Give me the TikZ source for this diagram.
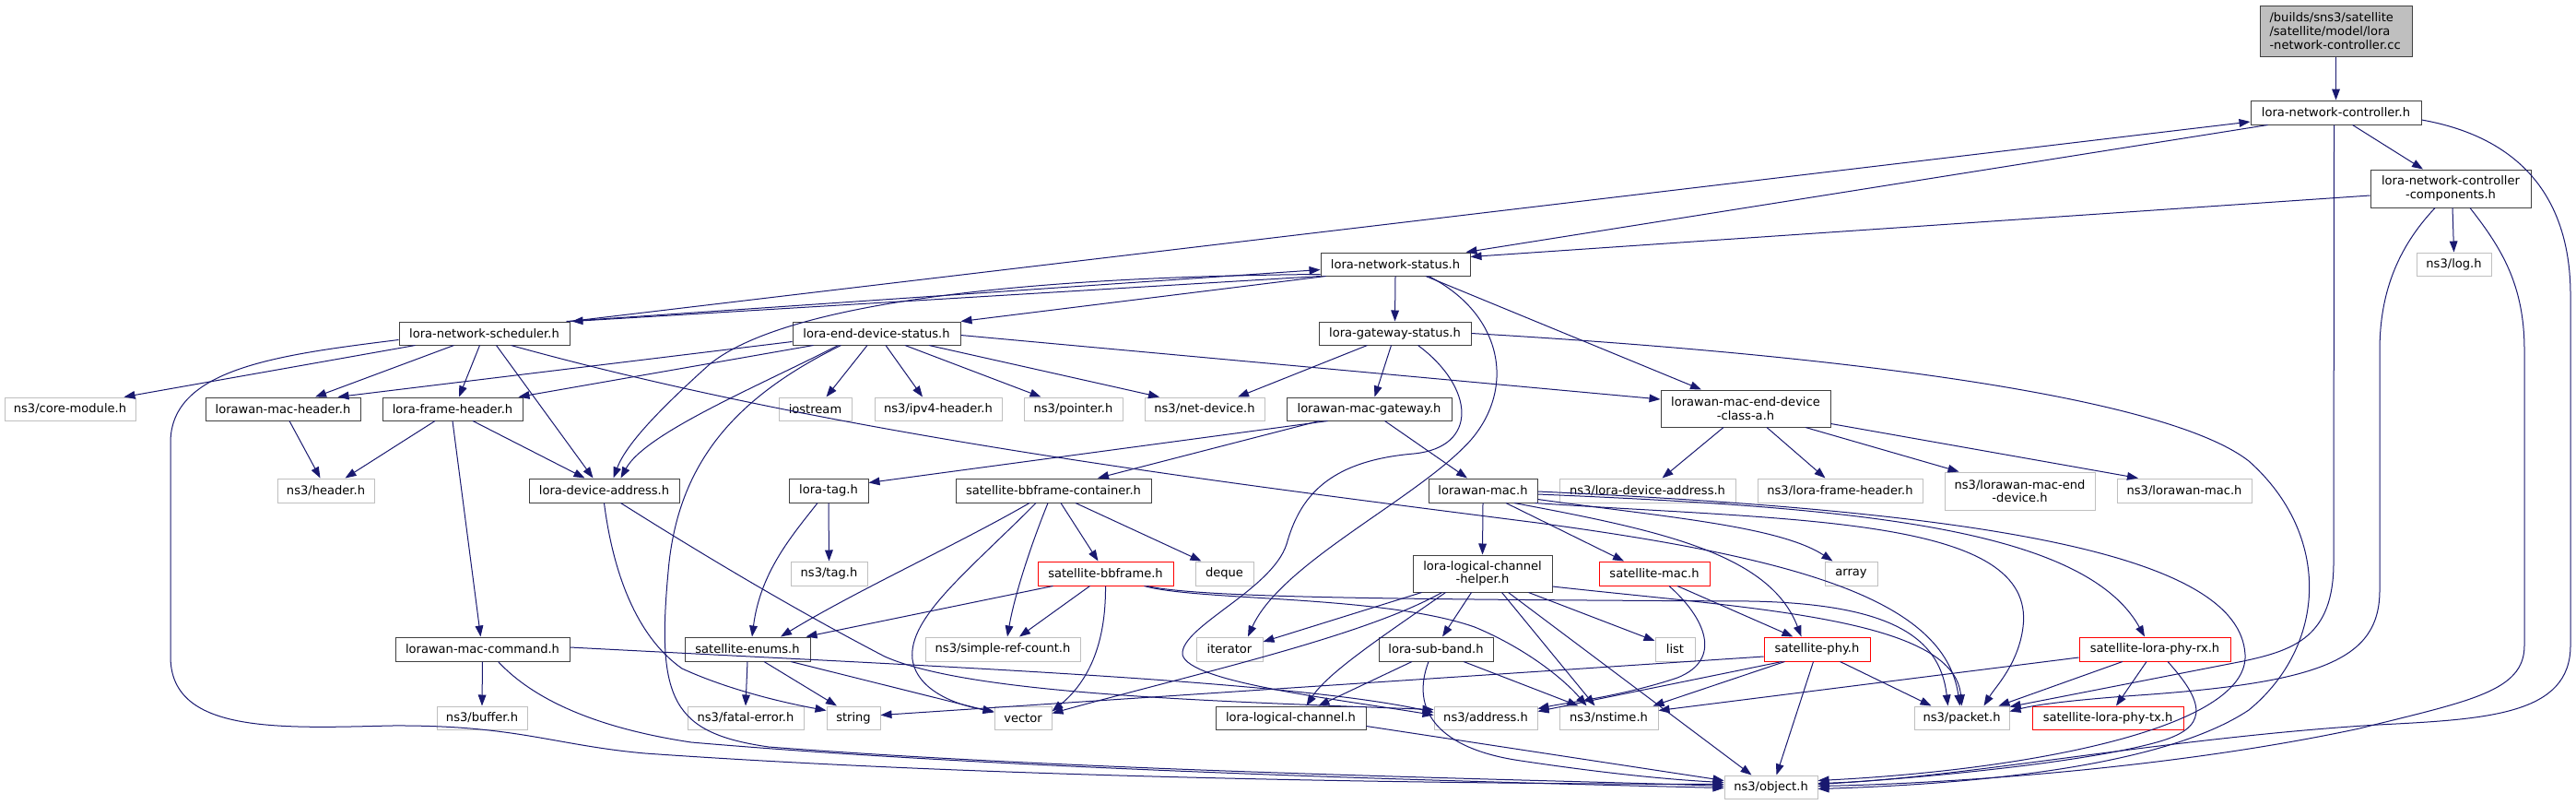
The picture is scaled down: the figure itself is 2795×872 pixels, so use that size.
\documentclass[tikz,border=0pt]{standalone}
\usepackage{fontspec}
\setmainfont{DejaVu Sans}
\usetikzlibrary{arrows.meta,calc}
\definecolor{edgecol}{HTML}{191970}
\definecolor{docbord}{HTML}{404040}
\definecolor{extbord}{HTML}{BFBFBF}
\definecolor{rootfill}{HTML}{BFBFBF}
\newcommand\mknode[7]{\node[#6, minimum width={(#4-#2)*0.75pt}, minimum height={(#5-#3)*0.75pt}] (#1) at ({(#2+#4)/2},{(#3+#5)/2}) {#7};}
\tikzset{
  basen/.style={inner sep=0pt, fill=white, line width=0.75pt, align=center, font=\fontsize{9.8pt}{11pt}\selectfont},
  doc/.style={basen, draw=docbord},
  ext/.style={basen, draw=extbord},
  redn/.style={basen, draw=red},
  rootn/.style={basen, draw=docbord, fill=rootfill, align=left, text width=108pt},
  edg/.style={draw=edgecol, line width=0.75pt, -{Triangle[length=9pt,width=6.5pt]}}
}
\begin{document}
\begin{tikzpicture}[x=0.75pt,y=-0.75pt]
\fill[white] (0,0) rectangle (2795,872);
\useasboundingbox (0,0) rectangle (2795,872);
% nodes
\mknode{root}{2452}{6}{2617}{61}{rootn}{/builds/sns3/satellite\\/satellite/model/lora\\-network-controller.cc}
\mknode{lnc}{2442}{109}{2627}{135}{doc}{lora-network-controller.h}
\mknode{lncc}{2572}{184}{2746}{225}{doc}{lora-network-controller\\-components.h}
\mknode{log}{2622}{274}{2703}{299}{ext}{ns3/log.h}
\mknode{lns}{1433}{274}{1595}{299}{doc}{lora-network-status.h}
\mknode{lnsch}{433}{349}{618}{374}{doc}{lora-network-scheduler.h}
\mknode{leds}{860}{349}{1042}{374}{doc}{lora-end-device-status.h}
\mknode{lgs}{1431}{349}{1596}{374}{doc}{lora-gateway-status.h}
\mknode{core}{5}{431}{147}{456}{ext}{ns3/core-module.h}
\mknode{lmh}{223}{431}{391}{456}{doc}{lorawan-mac-header.h}
\mknode{lfh}{415}{431}{567}{456}{doc}{lora-frame-header.h}
\mknode{iostream}{845}{431}{924}{456}{ext}{iostream}
\mknode{ipv4}{949}{431}{1087}{456}{ext}{ns3/ipv4-header.h}
\mknode{pointer}{1111}{431}{1218}{456}{ext}{ns3/pointer.h}
\mknode{netdev}{1242}{431}{1372}{456}{ext}{ns3/net-device.h}
\mknode{lmg}{1396}{431}{1575}{456}{doc}{lorawan-mac-gateway.h}
\mknode{lmedc}{1802}{423}{1986}{463}{doc}{lorawan-mac-end-device\\-class-a.h}
\mknode{header}{301}{519}{406}{545}{ext}{ns3/header.h}
\mknode{lda}{574}{519}{737}{545}{doc}{lora-device-address.h}
\mknode{ltag}{856}{519}{942}{545}{doc}{lora-tag.h}
\mknode{sbbc}{1037}{519}{1249}{545}{doc}{satellite-bbframe-container.h}
\mknode{lmac}{1550}{519}{1668}{545}{doc}{lorawan-mac.h}
\mknode{nlda}{1692}{519}{1883}{545}{ext}{ns3/lora-device-address.h}
\mknode{nlfh}{1907}{519}{2086}{545}{ext}{ns3/lora-frame-header.h}
\mknode{nlmed}{2110}{512}{2273}{553}{ext}{ns3/lorawan-mac-end\\-device.h}
\mknode{nlm}{2297}{519}{2443}{545}{ext}{ns3/lorawan-mac.h}
\mknode{ntag}{858}{609}{941}{635}{ext}{ns3/tag.h}
\mknode{sbb}{1126}{609}{1273}{635}{redn}{satellite-bbframe.h}
\mknode{deque}{1297}{609}{1360}{635}{ext}{deque}
\mknode{llch}{1533}{602}{1684}{642}{doc}{lora-logical-channel\\-helper.h}
\mknode{smac}{1735}{609}{1855}{635}{redn}{satellite-mac.h}
\mknode{array}{1980}{609}{2037}{635}{ext}{array}
\mknode{senums}{743}{691}{879}{717}{doc}{satellite-enums.h}
\mknode{nsrc}{1004}{691}{1172}{717}{ext}{ns3/simple-ref-count.h}
\mknode{iterator}{1298}{691}{1370}{717}{ext}{iterator}
\mknode{lsb}{1496}{691}{1620}{717}{doc}{lora-sub-band.h}
\mknode{list}{1796}{691}{1839}{717}{ext}{list}
\mknode{sphy}{1914}{691}{2029}{717}{redn}{satellite-phy.h}
\mknode{slprx}{2256}{691}{2420}{717}{redn}{satellite-lora-phy-rx.h}
\mknode{lmc}{429}{691}{618}{717}{doc}{lorawan-mac-command.h}
\mknode{buffer}{474}{766}{572}{791}{ext}{ns3/buffer.h}
\mknode{fatal}{746}{766}{872}{791}{ext}{ns3/fatal-error.h}
\mknode{string}{897}{766}{955}{791}{ext}{string}
\mknode{vector}{1079}{766}{1141}{791}{ext}{vector}
\mknode{llc}{1319}{766}{1482}{791}{doc}{lora-logical-channel.h}
\mknode{addr}{1556}{766}{1668}{791}{ext}{ns3/address.h}
\mknode{nstime}{1692}{766}{1799}{791}{ext}{ns3/nstime.h}
\mknode{packet}{2077}{766}{2180}{791}{ext}{ns3/packet.h}
\mknode{slptx}{2205}{766}{2369}{791}{redn}{satellite-lora-phy-tx.h}
\mknode{object}{1871}{841}{1972}{866}{ext}{ns3/object.h}
% edges
\draw[edg] (root.south) -- (lnc.north);
\draw[edg] ($(lnc.south)+(18,0)$) -- ($(lncc.north)+(-30,0)$);
\draw[edg] ($(lnc.south west)+(19,0)$) -- ($(lns.north east)+(-5,0)$);
\draw[edg] ($(lncc.west)+(0,7.5)$) -- ($(lns.north east)+(0,5)$);
\draw[edg] ($(lnc.south)+(-2,0)$) -- (2532,610) .. controls (2532,690) and (2490,705) .. (2434,717) -- ($(packet.north east)+(0,1)$);
\draw[edg] ($(lncc.south)+(-17,0)$) .. controls (2600,270) and (2582,320) .. (2582,380) -- (2582,640) .. controls (2582,715) and (2520,740) .. (2320,754) .. controls (2250,759) and (2210,764) .. ($(packet.east)+(0,-7)$);
\draw[edg] ($(lnc.east)+(0,8)$) .. controls (2740,150) and (2789,220) .. (2789,320) -- (2789,700) .. controls (2789,775) and (2700,780) .. (2580,786) .. controls (2350,800) and (2120,845) .. ($(object.east)+(0,-4)$);
\draw[edg] ($(lncc.south)+(21,0)$) .. controls (2715,270) and (2739,310) .. (2739,380) -- (2739,700) .. controls (2739,750) and (2680,760) .. (2560,790) .. controls (2350,835) and (2100,850) .. ($(object.east)+(0,-1)$);
\draw[edg] ($(lncc.south)+(2,0)$) -- (log.north);
\draw[edg] (lnsch.north east) -- ($(lnc.west)+(0,10)$);
\draw[edg] ($(lnsch.north east)+(-4,0)$) -- ($(lns.west)+(0,6)$);
\draw[edg] (lns.south west) -- ($(lnsch.north east)+(2,0)$);
\draw[edg] ($(lnsch.south west)+(18,0)$) -- ($(core.north east)+(-13,0)$);
\draw[edg] ($(lnsch.west)+(0,7)$) .. controls (300,385) and (185,400) .. (185,480) -- (185,712) .. controls (185,795) and (300,790) .. (424,787) .. controls (560,786) and (600,808) .. (700,817) .. controls (1100,845) and (1600,850) .. ($(object.west)+(0,-3)$);
\draw[edg] ($(lnsch.south)+(-33,0)$) -- ($(lmh.north)+(35,0)$);
\draw[edg] ($(lnsch.south)+(-5,0)$) -- ($(lfh.north)+(7,0)$);
\draw[edg] ($(lnsch.south)+(13,0)$) -- ($(lda.north)+(-12,0)$);
\draw[edg] ($(lnsch.south)+(29,0)$) .. controls (900,470) and (1300,520) .. (1668,567) .. controls (1950,605) and (2110,650) .. ($(packet.north)+(-2,0)$);
\draw[edg] ($(lns.south west)+(6,0)$) -- (leds.north east);
\draw[edg] (lns.south) -- (lgs.north);
\draw[edg] ($(lns.south)+(33,0)$) -- ($(lmedc.north)+(-48,0)$);
\draw[edg] ($(lns.south)+(36,0)$) .. controls (1630,340) and (1645,420) .. (1596,477) .. controls (1540,540) and (1390,610) .. ($(iterator.north)+(20,0)$);
\draw[edg] ($(lns.south west)+(0,-2)$) .. controls (1100,300) and (850,330) .. (770,395) .. controls (720,440) and (680,480) .. ($(lda.north)+(10,0)$);
\draw[edg] ($(leds.south west)+(0,-4)$) -- ($(lmh.north east)+(-25,0)$);
\draw[edg] ($(leds.south west)+(23,0)$) -- ($(lfh.north east)+(-5,0)$);
\draw[edg] ($(leds.south west)+(50,0)$) .. controls (820,420) and (700,470) .. ($(lda.north)+(18,0)$);
\draw[edg] ($(leds.south west)+(53,0)$) .. controls (800,430) and (735,500) .. (725,620) .. controls (712,760) and (730,795) .. (834,810) .. controls (1200,838) and (1700,846) .. ($(object.west)+(0,-1)$);
\draw[edg] ($(leds.south)+(-10,0)$) -- ($(iostream.north)+(12,0)$);
\draw[edg] ($(leds.south)+(10,0)$) -- ($(ipv4.north)+(-17,0)$);
\draw[edg] ($(leds.south)+(31,0)$) -- ($(pointer.north)+(-35,0)$);
\draw[edg] ($(leds.south)+(57,0)$) -- ($(netdev.north)+(-49,0)$);
\draw[edg] ($(leds.east)+(0,2)$) -- ($(lmedc.west)+(0,-10)$);
\draw[edg] ($(lgs.south)+(-30,0)$) -- ($(netdev.north)+(36,0)$);
\draw[edg] ($(lgs.south)+(-4,0)$) -- ($(lmg.north)+(6,0)$);
\draw[edg] ($(lgs.south)+(25,0)$) .. controls (1600,420) and (1605,485) .. (1534,492) .. controls (1440,500) and (1410,540) .. (1396,590) .. controls (1380,640) and (1280,680) .. (1283,710) .. controls (1290,740) and (1450,758) .. ($(addr.west)+(0,-3)$);
\draw[edg] (lgs.east) .. controls (2000,385) and (2350,430) .. (2440,500) .. controls (2530,580) and (2525,700) .. (2440,770) .. controls (2350,830) and (2150,850) .. ($(object.east)+(0,2)$);
\draw[edg] ($(lmh.south)+(7,0)$) -- ($(header.north)+(-6,0)$);
\draw[edg] ($(lfh.south)+(-19,0)$) -- ($(header.north)+(21,0)$);
\draw[edg] ($(lfh.south)+(22,0)$) -- ($(lda.north)+(-21,0)$);
\draw[edg] (lfh.south) -- ($(lmc.north)+(-2,0)$);
\draw[edg] (lda.south) .. controls (665,620) and (690,690) .. (740,725) .. controls (790,748) and (850,762) .. ($(string.west)+(0,-8)$);
\draw[edg] ($(lda.south)+(18,0)$) .. controls (760,600) and (860,660) .. (960,712) .. controls (1050,752) and (1300,760) .. ($(addr.west)+(0,-9)$);
\draw[edg] (ltag.south) -- (ntag.north);
\draw[edg] ($(ltag.south)+(-12,0)$) .. controls (860,580) and (825,620) .. ($(senums.north)+(5,0)$);
\draw[edg] ($(sbbc.south)+(-26,0)$) .. controls (1040,590) and (930,640) .. ($(senums.north)+(36,0)$);
\draw[edg] ($(sbbc.south)+(-19,0)$) .. controls (1050,620) and (985,670) .. (990,715) .. controls (995,750) and (1040,765) .. ($(vector.north west)+(0,6)$);
\draw[edg] ($(sbbc.south)+(-6,0)$) .. controls (1115,600) and (1100,650) .. ($(nsrc.north)+(5,0)$);
\draw[edg] ($(sbbc.south)+(8,0)$) -- ($(sbb.north)+(-8,0)$);
\draw[edg] ($(sbbc.south)+(24,0)$) -- ($(deque.north)+(-25,0)$);
\draw[edg] ($(sbb.south)+(-57,0)$) -- ($(senums.north east)+(-5,0)$);
\draw[edg] ($(sbb.south)+(-17,0)$) -- ($(nsrc.north)+(18,0)$);
\draw[edg] (sbb.south) .. controls (1200,700) and (1180,740) .. ($(vector.north east)+(0,6)$);
\draw[edg] ($(sbb.south)+(42,0)$) .. controls (1300,652) and (1500,645) .. (1600,680) .. controls (1660,705) and (1700,740) .. ($(nstime.north)+(-24,0)$);
\draw[edg] ($(sbb.south)+(45,0)$) .. controls (1300,648) and (1500,650) .. (1900,652) .. controls (2050,655) and (2105,690) .. ($(packet.north)+(-15,0)$);
\draw[edg] ($(llch.south west)+(10,0)$) -- ($(iterator.east)+(0,-8)$);
\draw[edg] ($(llch.south west)+(32,0)$) .. controls (1480,690) and (1300,730) .. ($(vector.east)+(0,-5)$);
\draw[edg] ($(llch.south west)+(36,0)$) .. controls (1500,690) and (1440,730) .. ($(llc.north)+(17,0)$);
\draw[edg] ($(llch.south)+(-12,0)$) -- ($(lsb.north)+(7,0)$);
\draw[edg] ($(llch.south)+(21,0)$) -- ($(nstime.north)+(-15,0)$);
\draw[edg] ($(llch.south)+(28,0)$) -- ($(object.north)+(-21,0)$);
\draw[edg] ($(llch.south)+(50,0)$) -- ($(list.west)+(0,-9)$);
\draw[edg] ($(llch.east)+(0,14)$) .. controls (1900,660) and (2120,670) .. (packet.north);
\draw[edg] (lmac.south) -- (llch.north);
\draw[edg] ($(lmac.south)+(25,0)$) -- ($(smac.north)+(-33,0)$);
\draw[edg] ($(lmac.south)+(34,0)$) .. controls (1800,575) and (1920,600) .. ($(sphy.north)+(-17,0)$);
\draw[edg] ($(lmac.south east)+(0,-4)$) .. controls (1800,560) and (1930,570) .. ($(array.north)+(-20,0)$);
\draw[edg] ($(lmac.south east)+(-3,0)$) .. controls (1950,565) and (2210,560) .. (2195,680) .. controls (2190,720) and (2165,745) .. ($(packet.north)+(24,0)$);
\draw[edg] ($(lmac.east)+(0,4)$) .. controls (2000,550) and (2260,570) .. ($(slprx.north)+(-11,0)$);
\draw[edg] ($(lmac.east)+(0,1)$) .. controls (2150,555) and (2430,600) .. (2436,710) .. controls (2440,790) and (2200,835) .. ($(object.east)+(0,-7)$);
\draw[edg] ($(smac.south)+(16,0)$) .. controls (1850,670) and (1870,715) .. (1820,735) .. controls (1760,755) and (1700,762) .. ($(addr.north east)+(0,3)$);
\draw[edg] ($(smac.south)+(25,0)$) -- ($(sphy.north)+(-26,0)$);
\draw[edg] ($(sphy.west)+(0,8)$) -- ($(string.east)+(0,-3)$);
\draw[edg] ($(sphy.south)+(-38,0)$) -- ($(addr.east)+(0,-7)$);
\draw[edg] ($(sphy.south)+(-35,0)$) -- ($(nstime.north east)+(-6,0)$);
\draw[edg] ($(sphy.south)+(-4,0)$) -- ($(object.north)+(6,0)$);
\draw[edg] ($(sphy.south)+(25,0)$) -- ($(packet.north west)+(19,0)$);
\draw[edg] ($(slprx.west)+(0,9)$) -- ($(nstime.east)+(0,-8)$);
\draw[edg] ($(slprx.south)+(-35,0)$) -- ($(packet.north)+(40,0)$);
\draw[edg] ($(slprx.south)+(-9,0)$) -- ($(slptx.north)+(9,0)$);
\draw[edg] ($(slprx.south)+(14,0)$) .. controls (2395,765) and (2395,790) .. (2340,805) .. controls (2250,830) and (2050,846) .. ($(object.east)+(0,-3)$);
\draw[edg] ($(lsb.south)+(-26,0)$) -- ($(llc.north)+(30,0)$);
\draw[edg] ($(lsb.south)+(-8,0)$) .. controls (1530,770) and (1560,812) .. (1650,825) .. controls (1750,840) and (1820,846) .. ($(object.west)+(0,-5)$);
\draw[edg] ($(lsb.south)+(30,0)$) -- ($(nstime.north)+(-33,0)$);
\draw[edg] ($(llc.east)+(0,9)$) -- ($(object.west)+(0,-7)$);
\draw[edg] (lmc.south) -- (buffer.north);
\draw[edg] ($(lmc.east)+(0,-2)$) .. controls (1000,722) and (1400,738) .. ($(addr.west)+(0,-6)$);
\draw[edg] ($(lmc.south)+(17,0)$) .. controls (580,760) and (650,790) .. (750,805) .. controls (1100,835) and (1600,848) .. ($(object.west)+(0,1)$);
\draw[edg] (senums.south) -- (fatal.north);
\draw[edg] ($(senums.south)+(18,0)$) -- ($(string.north)+(-18,0)$);
\draw[edg] ($(senums.south)+(47,0)$) -- ($(vector.west)+(0,-6)$);
\draw[edg] ($(lmedc.south)+(-24,0)$) -- ($(nlda.north)+(16,0)$);
\draw[edg] ($(lmedc.south)+(23,0)$) -- ($(nlfh.north)+(-16,0)$);
\draw[edg] ($(lmedc.south)+(65,0)$) -- ($(nlmed.north west)+(16,0)$);
\draw[edg] ($(lmedc.south east)+(0,-4)$) -- ($(nlm.north)+(-50,0)$);
\draw[edg] ($(lmg.south)+(-45,0)$) -- ($(ltag.north east)+(0,5)$);
\draw[edg] ($(lmg.south)+(-54,0)$) -- ($(sbbc.north)+(48,0)$);
\draw[edg] ($(lmg.south)+(17,0)$) -- ($(lmac.north)+(-17,0)$);
\end{tikzpicture}
\end{document}
